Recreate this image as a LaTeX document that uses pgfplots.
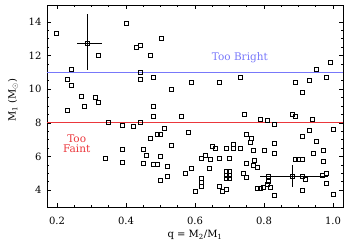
\documentclass[border=0pt]{standalone}
\usepackage{fontspec}
\setmainfont{DejaVu Serif}
\usepackage{pgfplots}
\pgfplotsset{compat=1.18}
\definecolor{brightblue}{RGB}{120,120,250}
\definecolor{faintred}{RGB}{235,55,60}
\begin{document}
\begin{tikzpicture}
\begin{axis}[
  scale only axis, width=296pt, height=202pt,
  xmin=0.171, xmax=1.029, ymin=3, ymax=15,
  xtick={0.2,0.4,0.6,0.8,1.0}, ytick={4,6,8,10,12,14},
  minor x tick num=3, minor y tick num=3,
  tick align=inside, major tick length=4pt, minor tick length=2pt,
  tick style={black, line width=0.6pt},
  axis line style={line width=0.7pt},
  /pgf/number format/assume math mode=true,
  x tick label style={/pgf/number format/fixed, /pgf/number format/fixed zerofill, /pgf/number format/precision=1},
  xticklabel shift=7pt,
  yticklabel shift=2pt,
  tick label style={font=\fontsize{10}{12}\selectfont},
  label style={font=\fontsize{10}{12}\selectfont},
  xlabel={q = M\textsubscript{2}/M\textsubscript{1}},
  ylabel={M\textsubscript{1} (M\textsubscript{$\odot$})},
  xlabel style={at={(axis description cs:0.5,0)}, anchor=center, yshift=-28pt},
  ylabel style={at={(axis description cs:-0.115,0.53)}, anchor=center},
  clip=false,
]
\addplot[brightblue, line width=0.7pt] coordinates {(0.171,11) (1.029,11)};
\addplot[faintred, line width=0.7pt] coordinates {(0.171,8) (1.029,8)};
\addplot[only marks, mark=square, mark size=2pt, black, mark options={line width=0.6pt}] coordinates {
(0.199,13.31) (0.320,12.0) (0.240,11.19) (0.400,13.9) (0.501,13.02) (0.441,12.59)
(0.431,12.49) (0.470,12.0) (0.441,11.02) (0.951,11.19) (0.991,11.6)
(0.230,10.6) (0.240,10.2) (0.270,9.59) (0.310,9.49) (0.320,9.2) (0.279,9.0)
(0.230,8.76) (0.441,10.6) (0.480,10.72) (0.590,10.41) (0.530,10.02) (0.480,9.0)
(0.480,8.39) (0.561,8.41) (0.670,10.41) (0.731,10.72) (0.892,10.41) (0.931,10.52)
(0.911,9.8) (0.981,10.72) (0.742,8.52) (0.881,8.51) (0.892,8.41) (0.941,8.22)
(0.790,8.22) (0.811,8.13) (0.349,8.02) (0.441,8.02)
(0.831,7.92) (0.388,7.88) (0.420,7.78) (0.510,7.69) (0.491,7.29) (0.500,7.29)
(0.470,7.1) (0.581,7.42) (0.530,6.69) (0.388,6.41) (0.450,6.41) (0.460,6.08)
(0.500,6.0) (0.340,5.9) (0.388,5.63) (0.450,5.6) (0.480,5.51) (0.491,5.51)
(0.521,5.41) (0.590,5.31) (0.571,5.03) (0.521,4.8) (0.500,4.6) (0.601,3.92)
(0.750,7.29) (0.762,7.1) (0.761,6.84) (0.650,6.63) (0.660,6.49) (0.690,6.49)
(0.710,6.49) (0.730,6.49) (0.710,6.75) (0.770,6.35) (0.801,6.35) (0.831,6.8)
(0.831,6.19) (1.002,7.59) (0.930,7.53) (0.911,7.2) (0.952,6.9) (0.942,6.19)
(0.971,6.39) (0.891,5.82) (0.900,5.82) (0.910,5.82) (0.971,5.71)
(0.911,4.82) (0.921,4.63) (0.969,4.86) (0.982,4.98) (0.982,4.39) (0.911,4.0)
(1.002,3.75) (0.812,4.84) (0.812,4.53) (0.817,4.19) (0.831,3.7)
(0.619,5.92) (0.629,6.06) (0.643,5.82) (0.670,5.92) (0.699,5.92) (0.641,5.27)
(0.619,4.69) (0.619,4.47) (0.619,4.22) (0.690,5.12) (0.699,5.12) (0.690,4.88)
(0.699,4.88) (0.690,4.69) (0.699,4.69) (0.740,5.0) (0.750,4.78) (0.670,4.24)
(0.680,3.94) (0.690,4.06) (0.781,4.12) (0.788,4.12) (0.798,4.16) (0.748,5.57)
(0.771,5.76) (0.781,5.37) (0.769,5.5) (0.811,4.35)
};
\addplot[only marks, mark=square, mark size=2pt, black, mark options={line width=0.6pt},
  error bars/.cd, x dir=both, x explicit, y dir=both, y explicit, error mark=none,
  error bar style={line width=0.7pt, black}] coordinates {
(0.289,12.72) += (0.041,1.77) -= (0.032,1.56)
(0.881,4.82) += (0.105,0.69) -= (0.093,0.63)
};
\node[text=brightblue, font=\fontsize{10.5}{12}\selectfont] at (axis cs:0.730,11.88) {Too Bright};
\node[text=faintred, font=\fontsize{10.5}{9.5}\selectfont, align=center] at (axis cs:0.257,6.76) {Too\\Faint};
\end{axis}
\pgfresetboundingbox
\path[use as bounding box] (-47pt,-39pt) rectangle (307pt,207pt);
\end{tikzpicture}
\end{document}
